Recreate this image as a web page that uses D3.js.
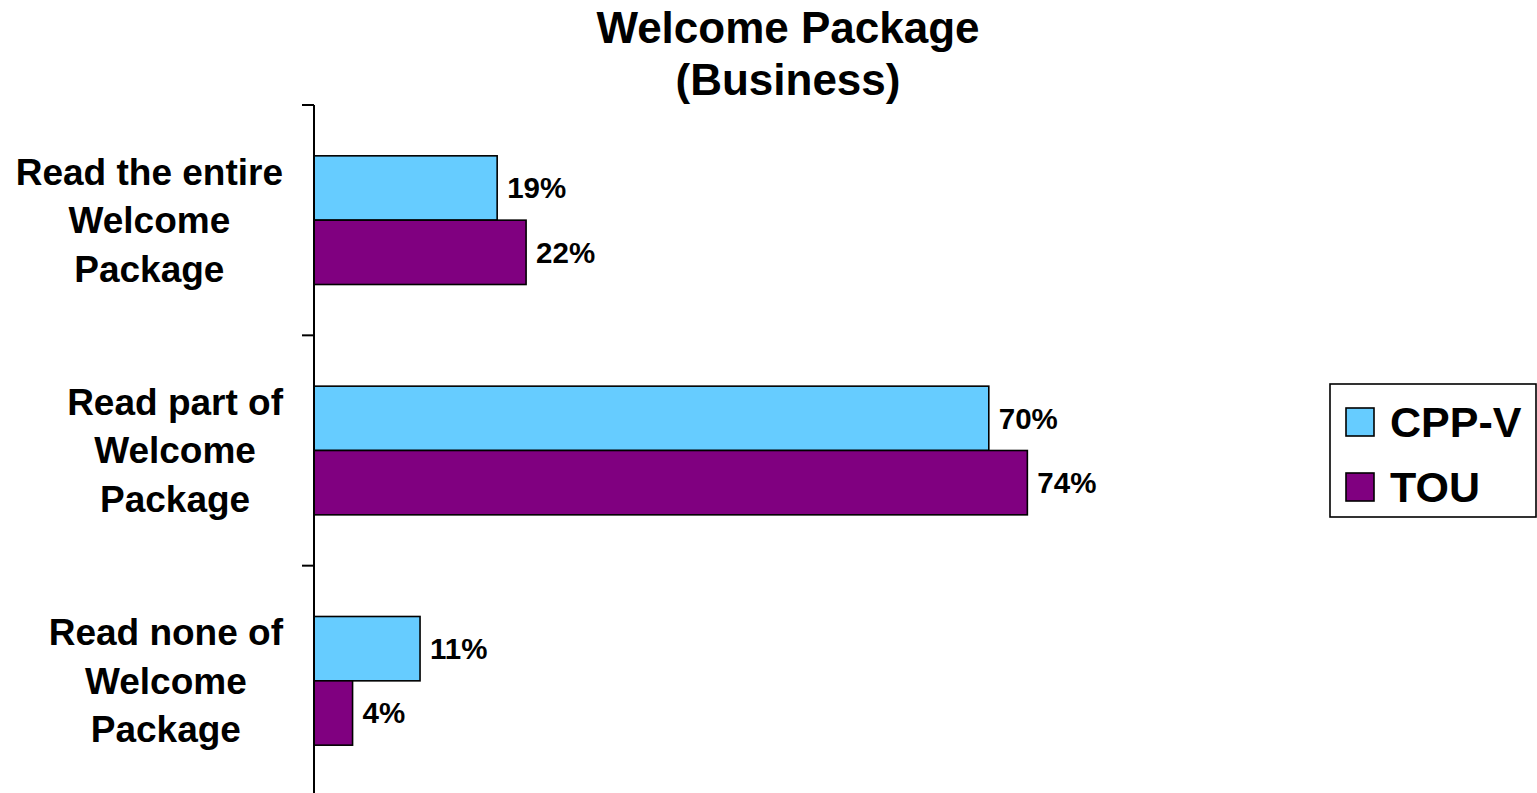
<!DOCTYPE html>
<html>
<head>
<meta charset="utf-8">
<script src="https://cdn.jsdelivr.net/npm/d3@7/dist/d3.min.js"></script>
<style>
  html, body { margin: 0; padding: 0; background: #fff; }
  svg { display: block; font-family: "Liberation Sans", Arial, sans-serif; font-weight: bold; }
</style>
</head>
<body>
<svg id="chart" width="1537" height="793"></svg>
<script>
// Survey responses about the welcome package, business customers (percent)
const categories = [
  ["Read the entire", "Welcome", "Package"],
  ["Read part of", "Welcome", "Package"],
  ["Read none of", "Welcome", "Package"]
];
const seriesNames = ["CPP-V", "TOU"];
const cppV = [19, 70, 11];
const tou = [22, 74, 4];
const titleLines = ["Welcome Package", "(Business)"];

const colors = { "CPP-V": "#66CCFF", "TOU": "#800080" };

const svg = d3.select("#chart");

const catKeys = categories.map(c => c.join(" "));
const rows = catKeys.map((k, i) => ({ key: k, lines: categories[i], values: [cppV[i], tou[i]] }));

const x = d3.scaleLinear().domain([0, 100]).range([314, 1278]);
const y0 = d3.scaleBand().domain(catKeys).range([105, 796]).padding(0);
const y1 = d3.scaleBand().domain(seriesNames).range([0, y0.bandwidth()]).paddingInner(0).paddingOuter(0.79);

// Title
svg.append("g").selectAll("text").data(titleLines).join("text")
  .attr("x", 788)
  .attr("y", (d, i) => 28 + i * 52)
  .attr("dy", "0.35em")
  .attr("text-anchor", "middle")
  .attr("font-size", 44)
  .text(d => d);

// Bars
const groups = svg.append("g").selectAll("g").data(rows).join("g")
  .attr("transform", d => `translate(0,${y0(d.key)})`);

groups.selectAll("rect")
  .data(d => d.values.map((v, j) => ({ s: seriesNames[j], v })))
  .join("rect")
  .attr("x", x(0))
  .attr("y", d => y1(d.s))
  .attr("width", d => x(d.v) - x(0))
  .attr("height", y1.bandwidth())
  .attr("fill", d => colors[d.s])
  .attr("stroke", "#000")
  .attr("stroke-width", 1.6);

groups.selectAll("text.val")
  .data(d => d.values.map((v, j) => ({ s: seriesNames[j], v })))
  .join("text")
  .attr("class", "val")
  .attr("x", d => x(d.v) + 10)
  .attr("y", d => y1(d.s) + y1.bandwidth() / 2)
  .attr("dy", "0.35em")
  .attr("font-size", 29.5)
  .text(d => d.v + "%");

// Category axis
const axis = svg.append("g").attr("transform", `translate(${x(0)},0)`)
  .call(d3.axisLeft(y0).tickValues([]).tickSize(0).tickSizeOuter(0));
axis.select(".domain").attr("stroke", "#000").attr("stroke-width", 2)
  .attr("d", `M0,${y0.range()[0]}V${y0.range()[1]}`);
// Tick marks at band boundaries
const boundaries = catKeys.map(k => y0(k)).concat([y0.range()[1]]);
axis.selectAll("line.tk").data(boundaries).join("line")
  .attr("class", "tk")
  .attr("x1", -12).attr("x2", 0)
  .attr("y1", d => d).attr("y2", d => d)
  .attr("stroke", "#000").attr("stroke-width", 2);

// Category labels: multi-line, centered block whose widest line ends near the axis
const labelRight = 283;
const lineGap = 48.5;
rows.forEach(r => {
  const g = svg.append("g");
  const cy = y0(r.key) + y0.bandwidth() / 2;
  const texts = g.selectAll("text").data(r.lines).join("text")
    .attr("y", (d, i) => cy + (i - (r.lines.length - 1) / 2) * lineGap)
    .attr("dy", "0.35em")
    .attr("text-anchor", "middle")
    .attr("font-size", 37)
    .text(d => d);
  let maxW = 0;
  texts.each(function () { maxW = Math.max(maxW, this.getComputedTextLength()); });
  texts.attr("x", labelRight - maxW / 2);
});

// Legend
const legend = svg.append("g");
legend.append("rect")
  .attr("x", 1330).attr("y", 384).attr("width", 206).attr("height", 133)
  .attr("fill", "#fff").attr("stroke", "#000").attr("stroke-width", 1.6);
const li = legend.selectAll("g").data(seriesNames).join("g")
  .attr("transform", (d, i) => `translate(1346,${408 + i * 65})`);
li.append("rect").attr("width", 28).attr("height", 28)
  .attr("fill", d => colors[d]).attr("stroke", "#000").attr("stroke-width", 1.6);
li.append("text").attr("x", 44).attr("y", 14).attr("dy", "0.35em")
  .attr("font-size", 43).text(d => d);
</script>
</body>
</html>
